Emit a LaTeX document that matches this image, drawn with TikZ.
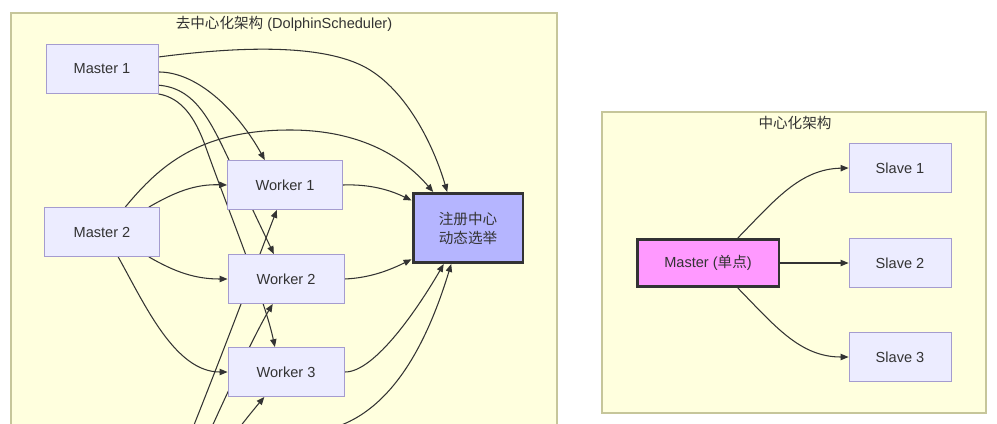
\documentclass[tikz,border=0pt]{standalone}
\usepackage{fontspec}
\setmainfont{Liberation Sans}
\newfontfamily\cjk{Noto Sans CJK SC}
\usetikzlibrary{arrows.meta}
\definecolor{clusterfill}{HTML}{FFFFDE}
\definecolor{clusterline}{HTML}{C6C69A}
\definecolor{nodefill}{HTML}{ECECFF}
\definecolor{nodeline}{HTML}{A59CCF}
\definecolor{regfill}{HTML}{B5B5FF}
\definecolor{masterfill}{HTML}{FF99FF}
\definecolor{ink}{HTML}{333333}
\pgfdeclarelayer{back}
\pgfdeclarelayer{edges}
\pgfsetlayers{back,edges,main}

\begin{document}
\begin{tikzpicture}[x = 0.02cm, y = -0.02cm,
  font = \fontsize{8.3}{10.8}\selectfont,
  cluster/.style = {draw = clusterline, fill = clusterfill, line width = 0.6pt},
  box/.style = {draw = nodeline, fill = nodefill, line width = 0.5pt, text = ink,
    inner sep = 0pt, minimum height = 0.98cm, align = center},
  hot/.style = {draw = ink, line width = 1.7pt, text = ink, inner sep = 0pt, align = center},
  link/.style = {draw = ink, line width = 0.6pt, -{Triangle[length = 4.5pt, width = 3.6pt]}}]
\useasboundingbox (0,0) rectangle (997,423);
\clip (0,0) rectangle (997,423);

% the two clusters
\begin{pgfonlayer}{back}
\fill [white] (0,0) rectangle (997,423);
\draw [cluster] (11,13) rectangle (557,460);
\draw [cluster] (602,112) rectangle (986,413);
\end{pgfonlayer}
\node [text = ink] (lefttitle) at (284,24) {{\cjk 去中心化架构} (DolphinScheduler)};
\node [text = ink] (righttitle) at (795,123) {{\cjk 中心化架构}};

% left: masters, workers, registry
\node [box, minimum width = 2.24cm] (m1) at (102,69) {Master 1};
\node [box, minimum width = 2.3cm] (m2) at (102,232) {Master 2};
\node [box, minimum width = 2.3cm] (w1) at (285,185) {Worker 1};
\node [box, minimum width = 2.32cm] (w2) at (286,279) {Worker 2};
\node [box, minimum width = 2.32cm] (w3) at (286,372) {Worker 3};
\node [hot, fill = regfill, minimum width = 2.2cm, minimum height = 1.38cm] (reg) at (468,228)
  {{\cjk 注册中心}\\{\cjk 动态选举}};

% right: single master, slaves
\node [hot, fill = masterfill, minimum width = 2.84cm, minimum height = 0.94cm] (ms) at (708,263)
  {Master ({\cjk 单点})};
\node [box, minimum width = 2.04cm] (s1) at (900,168) {Slave 1};
\node [box, minimum width = 2.04cm] (s2) at (900,263) {Slave 2};
\node [box, minimum width = 2.04cm] (s3) at (900,357) {Slave 3};

% master 3 lies below the cut
\coordinate (m3a) at (188,440);
\coordinate (m3b) at (206,440);
\coordinate (m3c) at (230,440);
\coordinate (m3d) at (312,432);

\begin{pgfonlayer}{edges}
\draw [link] (m1.12) .. controls (250,45) and (330,45) .. (370,70)
  .. controls (410,95) and (435,150) .. (reg.120);
\draw [link] (m1.-3) .. controls (200,72) and (240,115) .. (w1.129);
\draw [link] (m1.-16) .. controls (195,88) and (210,120) .. (229,160) -- (w2.116);
\draw [link] (m1.south east) .. controls (182,98) and (195,118) .. (205,145)
  .. controls (230,215) and (265,300) .. (w3.114);

\draw [link] (m2.47) .. controls (160,165) and (200,130) .. (290,130)
  .. controls (370,130) and (410,165) .. (reg.134);
\draw [link] (m2.28) .. controls (175,192) and (195,184) .. (w1.west);
\draw [link] (m2.-28) .. controls (175,272) and (195,279) .. (w2.west);
\draw [link] (m2.-57) .. controls (145,305) and (175,372) .. (w3.west);

\draw [link] (m3a) .. controls (230,335) and (265,240) .. (w1.252);
\draw [link] (m3b) .. controls (235,375) and (260,325) .. (w2.242);
\draw [link] (m3c) .. controls (245,420) and (255,408) .. (w3.229);
\draw [link] (m3d) .. controls (385,425) and (425,350) .. (reg.245);

\draw [link] (w1.east) .. controls (370,184) and (390,190) .. (reg.154);
\draw [link] (w2.east) .. controls (370,278) and (390,270) .. (reg.209);
\draw [link] (w3.east) .. controls (375,373) and (420,305) .. (reg.236);

\draw [link] (ms.40) .. controls (775,200) and (800,169) .. (s1.west);
\draw [link] (ms.east) -- (s2.west);
\draw [link] (ms.-40) .. controls (775,326) and (800,357) .. (s3.west);
\end{pgfonlayer}
\end{tikzpicture}
\end{document}
